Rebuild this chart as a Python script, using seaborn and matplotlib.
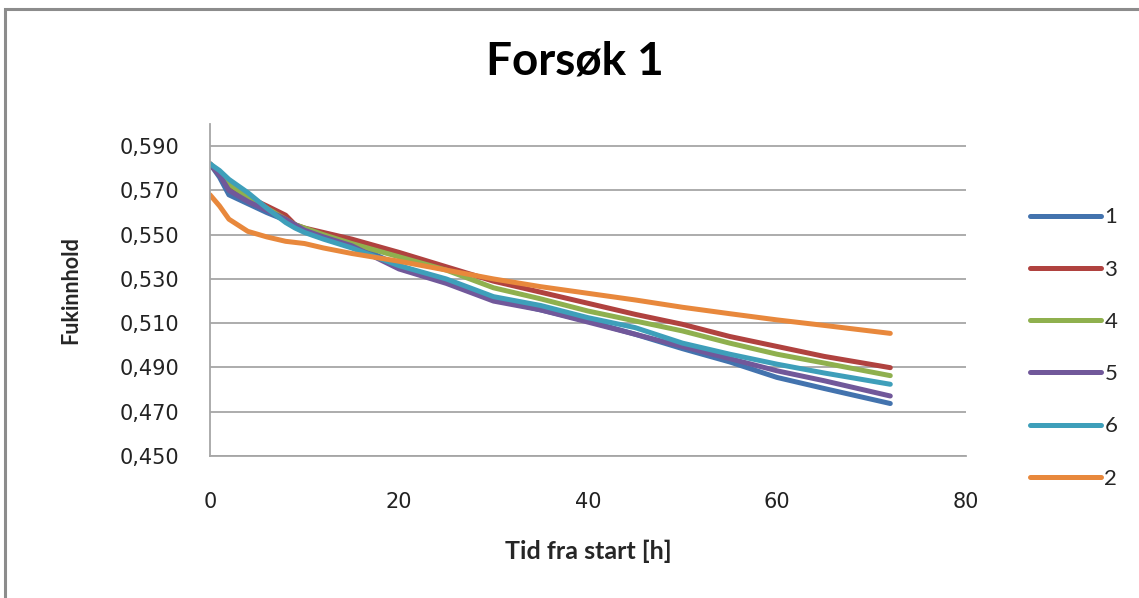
import numpy as np
import pandas as pd
import matplotlib
matplotlib.use("Agg")
import matplotlib.pyplot as plt
from matplotlib.ticker import FixedLocator, FuncFormatter
from matplotlib.patches import Rectangle
import seaborn as sns

# Time since start [h]
tid = [0, 1, 2, 4, 6, 8, 9, 10, 12, 15, 20, 25, 30, 35, 40, 45, 50, 55, 60, 65, 72]

# Moisture content per sample
serie_1 = [0.582, 0.576, 0.568, 0.564, 0.560, 0.5565, 0.5545, 0.5525, 0.5495, 0.546, 0.536,
           0.529, 0.521, 0.516, 0.511, 0.505, 0.4985, 0.4925, 0.4855, 0.4805, 0.4737]
serie_3 = [0.582, 0.577, 0.572, 0.567, 0.563, 0.5588, 0.5545, 0.553, 0.551, 0.548, 0.542,
           0.5355, 0.529, 0.524, 0.519, 0.514, 0.5095, 0.504, 0.4995, 0.495, 0.4899]
serie_4 = [0.582, 0.578, 0.573, 0.567, 0.562, 0.557, 0.5545, 0.553, 0.550, 0.546, 0.540,
           0.534, 0.526, 0.521, 0.5155, 0.511, 0.5065, 0.501, 0.496, 0.492, 0.4863]
serie_5 = [0.582, 0.577, 0.570, 0.565, 0.561, 0.557, 0.5545, 0.552, 0.549, 0.545, 0.5345,
           0.528, 0.520, 0.516, 0.5105, 0.505, 0.4995, 0.494, 0.4885, 0.484, 0.4771]
serie_6 = [0.582, 0.579, 0.575, 0.569, 0.562, 0.5555, 0.553, 0.551, 0.548, 0.544, 0.536,
           0.530, 0.522, 0.518, 0.5125, 0.508, 0.501, 0.496, 0.4915, 0.4875, 0.4824]
serie_2 = [0.568, 0.563, 0.557, 0.5515, 0.549, 0.547, 0.5465, 0.546, 0.544, 0.5415, 0.538,
           0.534, 0.530, 0.5265, 0.5235, 0.5205, 0.5172, 0.5143, 0.5115, 0.509, 0.5054]

serienavn = ["1", "3", "4", "5", "6", "2"]
farger = ["#4373AE", "#B0423F", "#8FB04E", "#71589A", "#3E9FBA", "#E8883C"]

y_ticks = [0.450, 0.470, 0.490, 0.510, 0.530, 0.550, 0.570, 0.590]
x_ticks = [0, 20, 40, 60, 80]

verdier = [serie_1, serie_3, serie_4, serie_5, serie_6, serie_2]
df = pd.concat(
    [pd.DataFrame({"Tid": tid, "Fukinnhold": v, "Serie": n}) for n, v in zip(serienavn, verdier)],
    ignore_index=True,
)

sns.set_style("white")
plt.rcParams["font.family"] = ["DejaVu Sans"]

fig = plt.figure(figsize=(11.39, 5.98), dpi=100)
ax = fig.add_axes([0.1844, 0.2375, 0.848 - 0.1844, 0.7926 - 0.2375])

sns.lineplot(
    data=df, x="Tid", y="Fukinnhold", hue="Serie", hue_order=serienavn,
    palette=dict(zip(serienavn, farger)), linewidth=3.6, ax=ax, legend=True,
    solid_capstyle="round", solid_joinstyle="round",
)

ax.set_xlim(0, 80)
ax.set_ylim(0.450, 0.600)
ax.xaxis.set_major_locator(FixedLocator(x_ticks))
ax.yaxis.set_major_locator(FixedLocator(y_ticks))
ax.yaxis.set_major_formatter(FuncFormatter(lambda v, p: f"{v:.3f}".replace(".", ",")))
ax.xaxis.set_major_formatter(FuncFormatter(lambda v, p: f"{v:.0f}"))
ax.tick_params(axis="both", length=0, labelsize=15, colors="#222222")
ax.tick_params(axis="y", pad=22)
ax.tick_params(axis="x", pad=26)

ax.yaxis.grid(True, color="#A6A6A6", linewidth=1.3)
ax.xaxis.grid(False)
ax.set_axisbelow(True)
for s in ["top", "right"]:
    ax.spines[s].set_visible(False)
for s in ["left", "bottom"]:
    ax.spines[s].set_color("#A6A6A6")
    ax.spines[s].set_linewidth(1.3)

ax.set_xlabel("Tid fra start [h]", family="Lato", fontweight="bold", fontsize=18, labelpad=20)
ax.set_ylabel("Fukinnhold", family="Lato", fontweight="bold", fontsize=15.5, labelpad=28)

fig.text(0.505, 0.897, "Forsøk 1", family="Lato", fontweight="bold", fontsize=33,
         ha="center", va="center", color="black")

handles, labels = ax.get_legend_handles_labels()
ax.get_legend().remove()
leg = fig.legend(
    handles, labels, loc="center left", bbox_to_anchor=(1030 / 1139, 1 - 348 / 598),
    frameon=False, handlelength=3.2, handletextpad=0.15,
    labelspacing=1.45, borderpad=0, borderaxespad=0, prop={"family": "Lato", "size": 16},
)
for line in leg.get_lines():
    line.set_linewidth(3.6)
    line.set_solid_capstyle("round")

# Outer chart frame
fig.patches.append(Rectangle((5 / 1139, -0.1), 1.2, 1.1 - 9 / 598, transform=fig.transFigure,
                             fill=False, edgecolor="#8C8C8C", linewidth=2.2))

fig.savefig("out.png", dpi=100, facecolor="white")
